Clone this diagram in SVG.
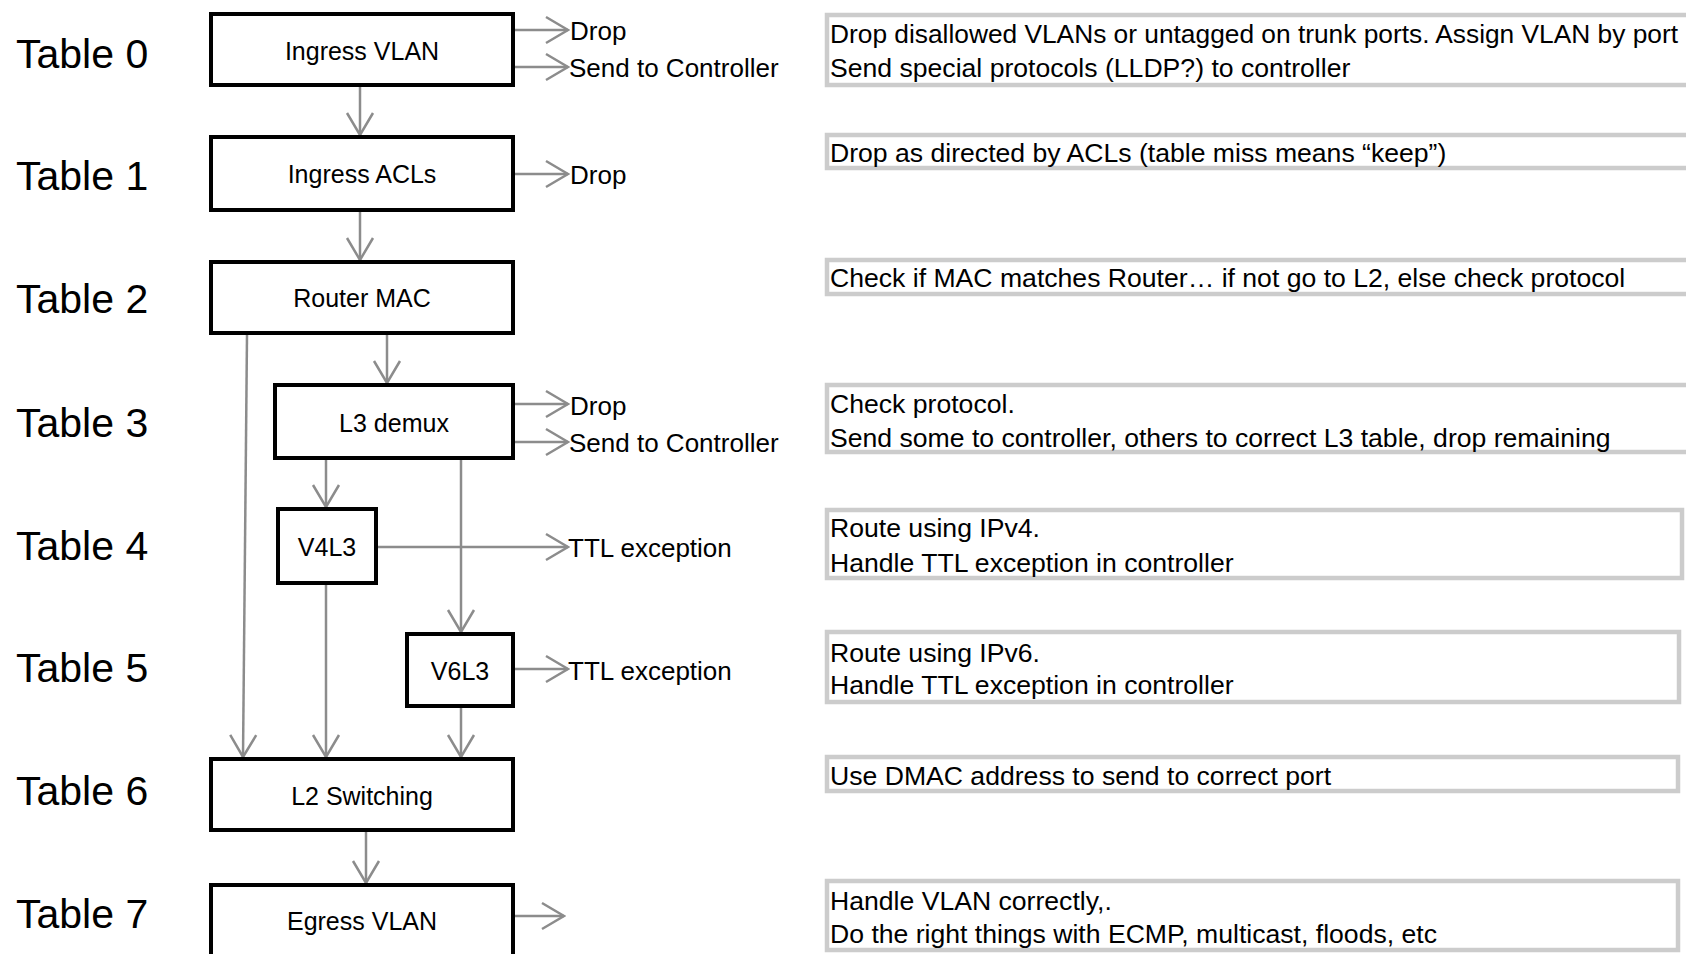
<svg xmlns="http://www.w3.org/2000/svg" width="1686" height="954" viewBox="0 0 1686 954">
<style>
.bg{fill:#fff}
.node{fill:#fff;stroke:#000;stroke-width:4}
.note{fill:#fff;stroke:#cccccc;stroke-width:4.5}
.tbl{font-family:"Liberation Sans",Arial,sans-serif;font-size:41px;fill:#000}
.lbl{font-family:"Liberation Sans",Arial,sans-serif;font-size:25px;fill:#000;text-anchor:middle}
.out{font-family:"Liberation Sans",Arial,sans-serif;font-size:26px;fill:#000}
.txt{font-family:"Liberation Sans",Arial,sans-serif;font-size:26.6px;fill:#000}
.conn{stroke:#8c8c8c;stroke-width:2.5;fill:none;marker-end:url(#chev)}
</style>
<defs>
<marker id="chev" viewBox="0 0 26 30" refX="24" refY="15" markerWidth="26" markerHeight="30" markerUnits="userSpaceOnUse" orient="auto">
<path d="M2,2 L24,15 L2,28" fill="none" stroke="#8c8c8c" stroke-width="2.5"/>
</marker>
</defs>
<rect class="bg" x="0" y="0" width="1686" height="954"/>

<g id="table-labels">
<text class="tbl" x="16" y="68">Table 0</text>
<text class="tbl" x="16" y="190">Table 1</text>
<text class="tbl" x="16" y="313">Table 2</text>
<text class="tbl" x="16" y="437">Table 3</text>
<text class="tbl" x="16" y="560">Table 4</text>
<text class="tbl" x="16" y="682">Table 5</text>
<text class="tbl" x="16" y="805">Table 6</text>
<text class="tbl" x="16" y="928">Table 7</text>
</g>

<g id="connectors">
<line class="conn" x1="515" y1="30" x2="568" y2="30"/>
<line class="conn" x1="515" y1="67" x2="568" y2="67"/>
<line class="conn" x1="360" y1="87" x2="360" y2="135"/>
<line class="conn" x1="515" y1="174" x2="568" y2="174"/>
<line class="conn" x1="360" y1="212" x2="360" y2="260"/>
<line class="conn" x1="247" y1="335" x2="243" y2="757"/>
<line class="conn" x1="387" y1="335" x2="387" y2="383"/>
<line class="conn" x1="515" y1="404" x2="568" y2="404"/>
<line class="conn" x1="515" y1="442" x2="568" y2="442"/>
<line class="conn" x1="326" y1="460" x2="326" y2="507"/>
<line class="conn" x1="461" y1="460" x2="461" y2="632"/>
<line class="conn" x1="378" y1="547" x2="568" y2="547"/>
<line class="conn" x1="326" y1="585" x2="326" y2="757"/>
<line class="conn" x1="515" y1="669" x2="568" y2="669"/>
<line class="conn" x1="461" y1="708" x2="461" y2="757"/>
<line class="conn" x1="366" y1="832" x2="366" y2="883"/>
<line class="conn" x1="515" y1="916" x2="564" y2="916"/>
</g>

<g id="outputs">
<text class="out" x="570" y="40">Drop</text>
<text class="out" x="569" y="77" font-size="27">Send to Controller</text>
<text class="out" x="570" y="184">Drop</text>
<text class="out" x="570" y="415">Drop</text>
<text class="out" x="569" y="452" font-size="27">Send to Controller</text>
<text class="out" x="568" y="557">TTL exception</text>
<text class="out" x="568" y="680">TTL exception</text>
</g>

<g id="n-ingress-vlan"><rect class="node" x="211" y="14" width="302" height="71"/><text class="lbl" x="362" y="60">Ingress VLAN</text></g>
<g id="n-ingress-acls"><rect class="node" x="211" y="137" width="302" height="73"/><text class="lbl" x="362" y="183">Ingress ACLs</text></g>
<g id="n-router-mac"><rect class="node" x="211" y="262" width="302" height="71"/><text class="lbl" x="362" y="307">Router MAC</text></g>
<g id="n-l3-demux"><rect class="node" x="275" y="385" width="238" height="73"/><text class="lbl" x="394" y="432">L3 demux</text></g>
<g id="n-v4l3"><rect class="node" x="278" y="509" width="98" height="74"/><text class="lbl" x="327" y="556">V4L3</text></g>
<g id="n-v6l3"><rect class="node" x="407" y="634" width="106" height="72"/><text class="lbl" x="460" y="680">V6L3</text></g>
<g id="n-l2-switching"><rect class="node" x="211" y="759" width="302" height="71"/><text class="lbl" x="362" y="805">L2 Switching</text></g>
<g id="n-egress-vlan"><rect class="node" x="211" y="885" width="302" height="71"/><text class="lbl" x="362" y="930">Egress VLAN</text></g>

<g id="note-0"><rect class="note" x="827" y="15" width="870" height="70"/>
<text class="txt" x="830" y="43" textLength="848" lengthAdjust="spacingAndGlyphs">Drop disallowed VLANs or untagged on trunk ports. Assign VLAN by port</text>
<text class="txt" x="830" y="77">Send special protocols (LLDP?) to controller</text></g>
<g id="note-1"><rect class="note" x="827" y="135" width="870" height="33"/>
<text class="txt" x="830" y="162">Drop as directed by ACLs (table miss means “keep”)</text></g>
<g id="note-2"><rect class="note" x="827" y="260" width="870" height="34"/>
<text class="txt" x="830" y="287">Check if MAC matches Router… if not go to L2, else check protocol</text></g>
<g id="note-3"><rect class="note" x="827" y="385" width="870" height="67"/>
<text class="txt" x="830" y="413">Check protocol.</text>
<text class="txt" x="830" y="447">Send some to controller, others to correct L3 table, drop remaining</text></g>
<g id="note-4"><rect class="note" x="827" y="510" width="855" height="68"/>
<text class="txt" x="830" y="537">Route using IPv4.</text>
<text class="txt" x="830" y="572">Handle TTL exception in controller</text></g>
<g id="note-5"><rect class="note" x="827" y="632" width="852" height="70"/>
<text class="txt" x="830" y="662">Route using IPv6.</text>
<text class="txt" x="830" y="694">Handle TTL exception in controller</text></g>
<g id="note-6"><rect class="note" x="827" y="757" width="851" height="34"/>
<text class="txt" x="830" y="785">Use DMAC address to send to correct port</text></g>
<g id="note-7"><rect class="note" x="827" y="881" width="851" height="69"/>
<text class="txt" x="830" y="910">Handle VLAN correctly,.</text>
<text class="txt" x="830" y="943">Do the right things with ECMP, multicast, floods, etc</text></g>
</svg>
